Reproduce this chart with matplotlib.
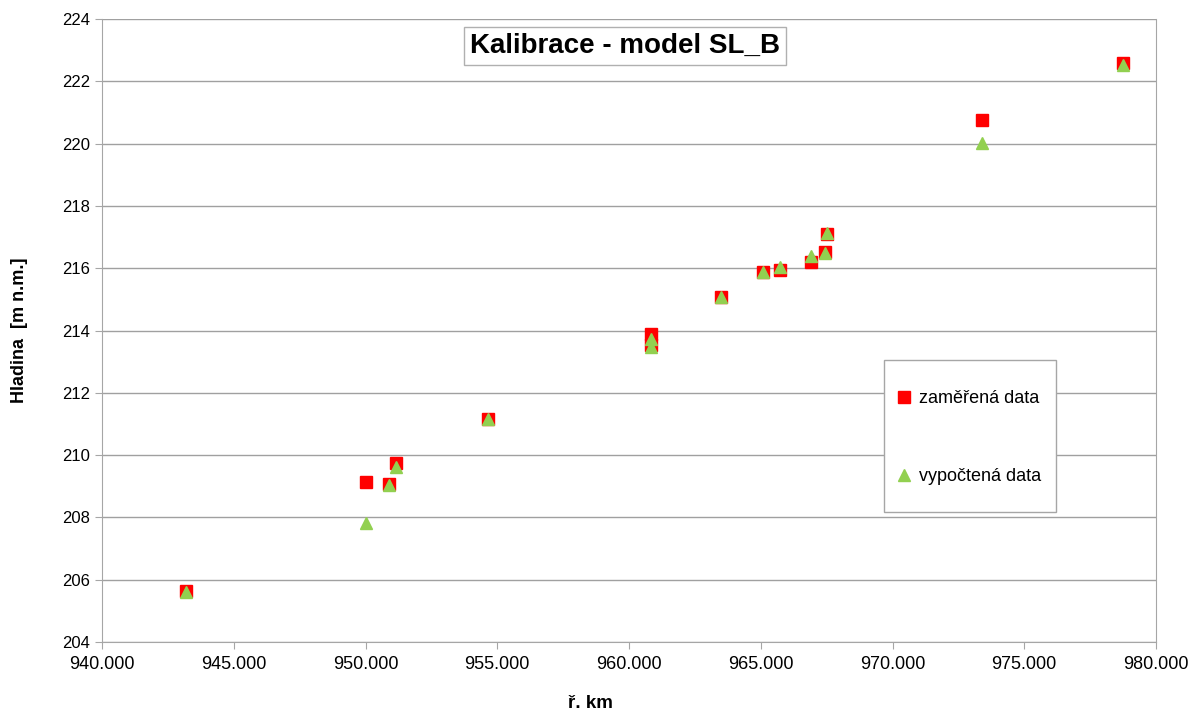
import matplotlib
matplotlib.use("Agg")
import matplotlib.pyplot as plt
from matplotlib.patches import Rectangle
from matplotlib.ticker import FuncFormatter

plt.rcParams['font.family'] = ['Liberation Sans', 'DejaVu Sans']

# river km
km = [943.20, 950.02, 950.91, 951.17, 954.65, 960.82, 960.82, 963.50,
      965.07, 965.72, 966.89, 967.43, 967.53, 973.40, 978.76]
# measured water level
measured = [205.65, 209.14, 209.06, 209.76, 211.17, 213.88, 213.55, 215.08,
            215.89, 215.94, 216.21, 216.51, 217.10, 220.76, 222.58]
# computed water level
computed = [205.62, 207.81, 209.03, 209.63, 211.15, 213.72, 213.48, 215.07,
            215.88, 216.05, 216.39, 216.50, 217.12, 220.03, 222.52]

x_ticks = [940, 945, 950, 955, 960, 965, 970, 975, 980]
y_ticks = [204, 206, 208, 210, 212, 214, 216, 218, 220, 222, 224]

fig = plt.figure(figsize=(11.95, 7.13), dpi=100)
ax = fig.add_axes([102 / 1195, 71 / 713, 1054 / 1195, 623 / 713])

ax.plot(km, measured, linestyle='none', marker='s', markersize=8,
        color='#ff0000', label='zaměřená data', zorder=3)
ax.plot(km, computed, linestyle='none', marker='^', markersize=8.5,
        color='#92d050', label='vypočtená data', zorder=4)

ax.set_xlim(940, 980)
ax.set_ylim(204, 224)
ax.set_xticks(x_ticks)
ax.set_yticks(y_ticks)
ax.xaxis.set_major_formatter(FuncFormatter(lambda v, p: f"{v:.3f}"))
ax.grid(axis='y', color='#a0a0a0', linewidth=1)
ax.set_axisbelow(True)
for s in ax.spines.values():
    s.set_color('#a6a6a6')
ax.spines['top'].set_visible(False)
ax.tick_params(axis='both', colors='#a6a6a6', labelcolor='black',
               length=5, direction='out')
ax.tick_params(axis='y', labelsize=12)
ax.tick_params(axis='x', labelsize=13, pad=5)

fig.text(20 / 1195, 1 - 330 / 713, 'Hladina  [m n.m.]', rotation=90,
         ha='center', va='center', fontsize=13, fontweight='bold')
fig.text(590 / 1195, 1 - 703 / 713, 'ř. km', ha='center', va='center',
         fontsize=13.5, fontweight='bold')

fig.text(625 / 1195, 1 - 46 / 713, 'Kalibrace - model SL_B', ha='center',
         va='center', fontsize=20, fontweight='bold',
         bbox=dict(boxstyle='square,pad=0.2', facecolor='white',
                   edgecolor='#b0b0b0', linewidth=1))

# legend frame drawn separately (tall box with wide row gap)
ax.add_patch(Rectangle((884 / 1195, 1 - 512 / 713), 172 / 1195, 152 / 713,
                       transform=fig.transFigure, clip_on=False,
                       facecolor='white', edgecolor='#a6a6a6',
                       linewidth=1, zorder=5))
leg = ax.legend(loc='upper left', bbox_to_anchor=(895 / 1195, 1 - 390 / 713),
                bbox_transform=fig.transFigure, fontsize=13, frameon=False,
                labelspacing=3.4, borderpad=0, handletextpad=0.35,
                handlelength=1.0, borderaxespad=0)
leg.set_zorder(6)

fig.savefig('out.png', dpi=100)
